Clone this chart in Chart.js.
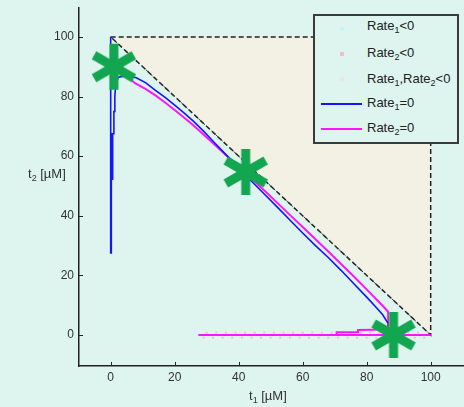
<!DOCTYPE html>
<html>
<head>
<meta charset="utf-8">
<script src="https://cdn.jsdelivr.net/npm/chart.js@4.4.1/dist/chart.umd.min.js"></script>
<style>
  html, body { margin:0; padding:0; background:#ddf4ef; }
  #wrap { position:relative; width:464px; height:407px; font-family:"Liberation Sans", Arial, sans-serif; color:#333; }
  canvas { position:absolute; left:0; top:0; }
  .ttl { position:absolute; font-size:13px; line-height:15px; white-space:nowrap; color:#333; }
  sub { font-size:9px; vertical-align:-3px; line-height:0; }
  #legend { position:absolute; left:313px; top:14px; width:146px; height:130px; box-sizing:border-box;
            border:2px solid #3a3a3a; background:#ddf4ef; }
  .row { position:absolute; left:52px; font-size:13px; line-height:15px; color:#222; white-space:nowrap; }
  .mk { position:absolute; width:4px; height:4px; left:25px; }
  .ln { position:absolute; left:6px; width:41px; height:0; }
</style>
</head>
<body>
<div id="wrap">
  <canvas id="c" width="464" height="407"></canvas>
  <div class="ttl" id="ytitle" style="left:28px; top:166px;">t<sub>2</sub> [µM]</div>
  <div class="ttl" id="xtitle" style="left:249px; top:388px;">t<sub>1</sub> [µM]</div>
  <div id="legend"></div>
</div>
<script>
// ---------- data ----------
const xTicks = [0, 20, 40, 60, 80, 100];
const yTicks = [0, 20, 40, 60, 80, 100];

// feasible region (triangle above the diagonal)
const regionX = [0, 100, 100, 0];
const regionY = [100, 100, 0, 100];
const diagonalX = [0, 100];
const diagonalY = [100, 0];

// Rate1 = 0 nullcline (blue)
const rate1ZeroX = [0, 0, 0.2, 0.2, 0.45, 0.45, 0.7, 0.7, 1.0, 1.0, 1.3, 1.3, 1.6, 2.4, 5, 8, 11, 14, 17, 20, 23, 26, 29, 32, 36, 40, 44, 48, 52, 56, 60, 64, 68, 72, 76, 80, 83, 85, 86.7];
const rate1ZeroY = [100, 27.5, 27.5, 67.5, 67.5, 52, 52, 67.5, 67.5, 75, 75, 80, 84.5, 86.5, 87.0, 86.3, 84.6, 82.1, 79.7, 77.1, 74.4, 71.6, 68.4, 65, 60.5, 56, 51.6, 47.3, 43, 38.6, 34.2, 30.0, 26.0, 21.7, 17.2, 12.7, 9.2, 6.8, 3.9];

// Rate2 = 0 nullcline (magenta)
const rate2ZeroX = [4, 7.6, 11, 14, 17, 20, 23, 26, 29, 32, 36, 40, 44, 48, 52, 56, 60, 64, 68, 72, 76, 80, 83, 85, 86.7, 86.7, 82, 77.3, 77.3, 70.6, 70.6, 27.4, null, 27.4, 100];
const rate2ZeroY = [88, 84.5, 82.5, 80.4, 78, 75.5, 72.9, 70.2, 67.3, 64.3, 60.4, 56.5, 52.5, 48.5, 44.4, 40.3, 36.2, 32.1, 28, 23.8, 19.6, 15.3, 12, 9.8, 7.8, 2, 1.8, 1.7, 0.9, 0.9, 0, 0, null, 0, 0];

// Rate2 < 0 region samples (pink)
const rate2NegX = [29, 32, 35, 38, 41, 44, 47, 50, 53, 56, 59, 62, 65, 68, 71, 74, 77, 80, 83, 86, 89, 92, 95, 98,
                   30, 33, 36, 39, 42, 45, 48, 51, 54, 57, 60, 63, 66, 69, 72, 75, 78, 81, 84, 87, 90, 93, 96, 99];
const rate2NegY = [-0.9, -0.9, -0.9, -0.9, -0.9, -0.9, -0.9, -0.9, -0.9, -0.9, -0.9, -0.9, -0.9, -0.9, -0.9, -0.9, -0.9, -0.9, -0.9, -0.9, -0.9, -0.9, -0.9, -0.9,
                   0.8, 0.8, 0.8, 0.8, 0.8, 0.8, 0.8, 0.8, 0.8, 0.8, 0.8, 0.8, 0.8, 0.8, 0.8, 0.8, 0.8, 0.8, 0.8, 0.8, 0.8, 0.8, 0.8, 0.8];

// Rate1, Rate2 < 0 sample (red dot)
const bothNegX = [86.7];
const bothNegY = [3.3];

// steady states (green asterisks)
const steadyX = [1, 42.2, 88.4];
const steadyY = [90, 54.7, 0];

const legendLabels = ['Rate<sub>1</sub>&lt;0', 'Rate<sub>2</sub>&lt;0', 'Rate<sub>1</sub>,Rate<sub>2</sub>&lt;0', 'Rate<sub>1</sub>=0', 'Rate<sub>2</sub>=0'];

// ---------- helpers ----------
const pts = (xs, ys) => xs.map((x, i) => (x === null ? {x: NaN, y: NaN} : {x: x, y: ys[i]}));

function asterisk() {
  const s = 50, c = document.createElement('canvas');
  c.width = s; c.height = s;
  const g = c.getContext('2d');
  g.strokeStyle = '#13a651'; g.lineWidth = 9; g.lineCap = 'butt';
  const r = 23;
  [90, 30, 150].forEach(a => {
    const t = a * Math.PI / 180;
    g.beginPath();
    g.moveTo(s/2 - r*Math.cos(t), s/2 - r*Math.sin(t));
    g.lineTo(s/2 + r*Math.cos(t), s/2 + r*Math.sin(t));
    g.stroke();
  });
  return c;
}

const insideTicks = {
  id: 'insideTicks',
  afterDraw(chart) {
    const ctx = chart.ctx, xs = chart.scales.x, ys = chart.scales.y, a = chart.chartArea;
    ctx.save();
    ctx.strokeStyle = '#222'; ctx.lineWidth = 1;
    xTicks.forEach(v => { const p = Math.round(xs.getPixelForValue(v)) + 0.5; ctx.beginPath(); ctx.moveTo(p, a.bottom); ctx.lineTo(p, a.bottom - 4); ctx.stroke(); });
    yTicks.forEach(v => { const p = Math.round(ys.getPixelForValue(v)) + 0.5; ctx.beginPath(); ctx.moveTo(a.left, p); ctx.lineTo(a.left + 4, p); ctx.stroke(); });
    ctx.restore();
  }
};

const bg = {
  id: 'bg',
  beforeDraw(chart) { const c = chart.ctx; c.save(); c.fillStyle = '#ddf4ef'; c.fillRect(0, 0, chart.width, chart.height); c.restore(); }
};

const tickFont = {family: '"Liberation Sans", Arial, sans-serif', size: 12};

new Chart(document.getElementById('c'), {
  type: 'scatter',
  data: {
    datasets: [
      { label: 'steady', data: pts(steadyX, steadyY), pointStyle: asterisk(), pointRadius: 25, order: 0 },
      { label: 'Rate1,Rate2<0', data: pts(bothNegX, bothNegY), pointStyle: 'rect', pointRadius: 1.5, backgroundColor: '#c0392b', borderWidth: 0, order: 1 },
      { label: 'Rate1=0', data: pts(rate1ZeroX, rate1ZeroY), showLine: true, borderColor: '#1414ff', borderWidth: 1.6, pointRadius: 0, spanGaps: false, order: 2 },
      { label: 'Rate2=0', data: pts(rate2ZeroX, rate2ZeroY), showLine: true, borderColor: '#ff14ff', borderWidth: 2, pointRadius: 0, spanGaps: false, order: 3 },
      { label: 'Rate2<0', data: pts(rate2NegX, rate2NegY), pointStyle: 'rect', pointRadius: 1.4, backgroundColor: '#f7bccb', borderWidth: 0, order: 4 },
      { label: 'diagonal', data: pts(diagonalX, diagonalY), showLine: true, borderColor: '#333', borderWidth: 1, borderDash: [3, 3], pointRadius: 0, order: 5 },
      { label: 'region', data: pts(regionX, regionY), showLine: true, fill: 'shape', backgroundColor: '#f2f1e4', borderColor: '#222', borderWidth: 1.5, borderDash: [5, 3], pointRadius: 0, order: 6 }
    ]
  },
  options: {
    responsive: false, animation: false, devicePixelRatio: 1,
    layout: { autoPadding: false, padding: { top: 8, right: 1, left: 0, bottom: 0 } },
    plugins: { legend: { display: false }, tooltip: { enabled: false } },
    scales: {
      x: {
        type: 'linear', min: -9.9, max: 110.1,
        afterBuildTicks: s => { s.ticks = xTicks.map(v => ({value: v})); },
        afterFit: s => { s.height = 41; s.paddingLeft = 0; s.paddingRight = 0; },
        ticks: { font: tickFont, color: '#333', padding: 4, maxRotation: 0 },
        grid: { drawOnChartArea: false, drawTicks: false },
        border: { display: true, color: '#222', width: 1.5 }
      },
      y: {
        type: 'linear', min: -10.4, max: 109.7,
        afterBuildTicks: s => { s.ticks = yTicks.map(v => ({value: v})); },
        afterFit: s => { s.width = 79; s.paddingTop = 0; s.paddingBottom = 0; },
        ticks: { font: tickFont, color: '#333', padding: 5 },
        grid: { drawOnChartArea: false, drawTicks: false },
        border: { display: true, color: '#222', width: 1.5 }
      }
    }
  },
  plugins: [bg, insideTicks]
});

// ---------- legend ----------
const leg = document.getElementById('legend');
const rowTops = [2, 28.5, 54.5, 78.5, 103.5];
const markTops = [10.5, 35.5, 61, 86.5, 111.5];
const markers = [
  {type: 'mk', color: '#c6f3f3'},
  {type: 'mk', color: '#f2bcc8'},
  {type: 'mk', color: '#efe6e2'},
  {type: 'ln', color: '#1414ff'},
  {type: 'ln', color: '#ff14ff'}
];
legendLabels.forEach((lab, i) => {
  const m = document.createElement('div');
  m.className = markers[i].type;
  if (markers[i].type === 'mk') { m.style.background = markers[i].color; m.style.top = markTops[i] + 'px'; }
  else { m.style.borderTop = '2px solid ' + markers[i].color; m.style.top = markTops[i] + 'px'; }
  leg.appendChild(m);
  const r = document.createElement('div');
  r.className = 'row';
  r.style.top = rowTops[i] + 'px';
  r.innerHTML = lab;
  leg.appendChild(r);
});
</script>
</body>
</html>
